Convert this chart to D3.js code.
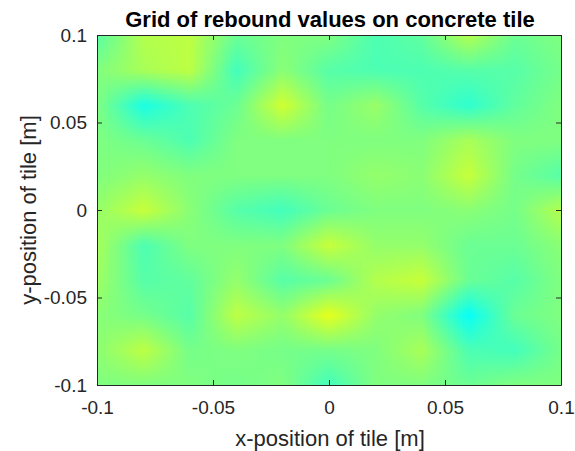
<!DOCTYPE html>
<html>
<head>
<meta charset="utf-8">
<script src="https://cdn.jsdelivr.net/npm/d3@7"></script>
<style>
  html, body { margin: 0; padding: 0; background: #ffffff; }
  svg { display: block; }
</style>
</head>
<body>
<svg id="chart" width="575" height="451"></svg>
<script>
// ---- data (rebound values on an 11 x 11 grid, rows from y = 0.1 down to y = -0.1) ----
const xPositions = [-0.1, -0.08, -0.06, -0.04, -0.02, 0, 0.02, 0.04, 0.06, 0.08, 0.1];
const yPositions = [0.1, 0.08, 0.06, 0.04, 0.02, 0, -0.02, -0.04, -0.06, -0.08, -0.1];

const reboundY_p010 = [38.4, 42.0, 42.4, 39.2, 40.0, 40.0, 38.0, 38.8, 42.0, 39.2, 40.0];
const reboundY_p008 = [40.0, 41.6, 42.4, 37.6, 40.4, 38.4, 38.0, 38.0, 38.4, 38.4, 39.6];
const reboundY_p006 = [40.0, 36.0, 38.0, 39.2, 43.2, 39.6, 41.0, 38.4, 36.8, 38.8, 40.0];
const reboundY_p004 = [40.0, 39.2, 38.0, 40.0, 40.0, 40.0, 40.0, 40.0, 41.6, 40.0, 40.0];
const reboundY_p002 = [40.0, 40.8, 40.0, 40.0, 40.0, 40.0, 40.8, 40.4, 42.8, 39.6, 38.4];
const reboundY_0000 = [40.8, 42.8, 40.4, 38.4, 37.6, 39.2, 40.0, 40.0, 40.4, 39.6, 42.0];
const reboundY_m002 = [41.6, 38.0, 40.0, 40.0, 40.0, 42.8, 40.8, 40.8, 39.2, 39.2, 40.4];
const reboundY_m004 = [41.2, 38.4, 38.8, 40.8, 38.4, 39.2, 42.0, 42.8, 39.2, 38.4, 40.0];
const reboundY_m006 = [40.4, 39.6, 38.4, 42.4, 40.8, 44.0, 40.8, 40.0, 35.2, 39.2, 40.0];
const reboundY_m008 = [40.4, 42.4, 39.6, 40.0, 39.6, 39.6, 40.0, 41.6, 38.0, 37.6, 39.6];
const reboundY_m010 = [40.0, 40.0, 40.0, 39.6, 40.0, 37.6, 40.0, 40.0, 39.2, 40.0, 40.0];

const reboundRows = [reboundY_p010, reboundY_p008, reboundY_p006, reboundY_p004, reboundY_p002,
                     reboundY_0000, reboundY_m002, reboundY_m004, reboundY_m006, reboundY_m008, reboundY_m010];

const colorLimits = [20, 60];
const xTickValues = [-0.1, -0.05, 0, 0.05, 0.1];
const yTickValues = [-0.1, -0.05, 0, 0.05, 0.1];
const xTickLabels = ["-0.1", "-0.05", "0", "0.05", "0.1"];
const yTickLabels = ["-0.1", "-0.05", "0", "0.05", "0.1"];

const titleText = "Grid of rebound values on concrete tile";
const xLabelText = "x-position of tile [m]";
const yLabelText = "y-position of tile [m]";

// ---- layout ----
const plotLeft = 97, plotRight = 561, plotTop = 35, plotBottom = 385;
const axisColor = "#262626";
const fontFamily = "'Liberation Sans', Arial, Helvetica, sans-serif";

const svg = d3.select("#chart");

const x = d3.scaleLinear().domain([-0.1, 0.1]).range([plotLeft, plotRight]);
const y = d3.scaleLinear().domain([-0.1, 0.1]).range([plotBottom, plotTop]);

// jet colormap over the colour limits
const [cLo, cHi] = colorLimits;
const span = cHi - cLo;
const jet = d3.scaleLinear()
  .domain([cLo, cLo + 0.125 * span, cLo + 0.375 * span, cLo + 0.625 * span, cLo + 0.875 * span, cHi])
  .range(["#000080", "#0000ff", "#00ffff", "#ffff00", "#ff0000", "#800000"])
  .interpolate(d3.interpolateRgb)
  .clamp(true);

// grid index scales (data -> fractional grid index)
const xIndex = d3.scaleLinear().domain(d3.extent(xPositions)).range([0, xPositions.length - 1]);
const yIndex = d3.scaleLinear().domain([yPositions[0], yPositions[yPositions.length - 1]]).range([0, yPositions.length - 1]);

function valueAt(xv, yv) {
  const fi = xIndex(xv), fj = yIndex(yv);
  const i0 = Math.max(0, Math.min(xPositions.length - 2, Math.floor(fi)));
  const j0 = Math.max(0, Math.min(yPositions.length - 2, Math.floor(fj)));
  const tx = fi - i0, ty = fj - j0;
  const a = reboundRows[j0][i0], b = reboundRows[j0][i0 + 1];
  const c = reboundRows[j0 + 1][i0], d = reboundRows[j0 + 1][i0 + 1];
  return (a * (1 - tx) + b * tx) * (1 - ty) + (c * (1 - tx) + d * tx) * ty;
}

// ---- interpolated surface (shading interp) ----
const sub = 14;
const samples = [];
for (let j = 0; j < yPositions.length - 1; j++) {
  for (let i = 0; i < xPositions.length - 1; i++) {
    const xa = xPositions[i], xb = xPositions[i + 1];
    const ya = yPositions[j], yb = yPositions[j + 1];
    for (let sj = 0; sj < sub; sj++) {
      for (let si = 0; si < sub; si++) {
        const x0 = xa + (xb - xa) * si / sub, x1 = xa + (xb - xa) * (si + 1) / sub;
        const y0 = ya + (yb - ya) * sj / sub, y1 = ya + (yb - ya) * (sj + 1) / sub;
        samples.push({ x0, x1, y0, y1, v: valueAt((x0 + x1) / 2, (y0 + y1) / 2) });
      }
    }
  }
}

svg.append("g")
  .attr("class", "surface")
  .selectAll("rect")
  .data(samples)
  .join("rect")
  .attr("x", d => x(d.x0))
  .attr("y", d => y(d.y0))
  .attr("width", d => x(d.x1) - x(d.x0) + 0.6)
  .attr("height", d => y(d.y1) - y(d.y0) + 0.6)
  .attr("fill", d => jet(d.v))
  .attr("shape-rendering", "crispEdges");

// cover any overlap past the right/bottom edge
svg.append("rect").attr("x", plotRight + 0.5).attr("y", plotTop).attr("width", 6).attr("height", plotBottom - plotTop + 6).attr("fill", "#fff");
svg.append("rect").attr("x", plotLeft).attr("y", plotBottom + 0.5).attr("width", plotRight - plotLeft + 6).attr("height", 6).attr("fill", "#fff");

// ---- axes ----
const tickLen = 5;
function styleAxis(g) {
  g.selectAll("path.domain").attr("stroke", axisColor).attr("stroke-width", 1);
  g.selectAll(".tick line").attr("stroke", axisColor).attr("stroke-width", 1);
  g.selectAll(".tick text").attr("fill", axisColor).attr("font-size", 19).attr("font-family", fontFamily);
}

const xAxisBottom = d3.axisBottom(x).tickValues(xTickValues)
  .tickFormat((d, i) => xTickLabels[i]).tickSizeInner(-tickLen).tickSizeOuter(0).tickPadding(15);
const gxb = svg.append("g").attr("transform", `translate(0,${plotBottom})`).call(xAxisBottom).call(styleAxis);
gxb.selectAll(".tick text").attr("dy", null).attr("y", 29);

const xAxisTop = d3.axisTop(x).tickValues(xTickValues).tickFormat(() => "")
  .tickSizeInner(-tickLen).tickSizeOuter(0);
svg.append("g").attr("transform", `translate(0,${plotTop})`).call(xAxisTop).call(styleAxis);

const yAxisLeft = d3.axisLeft(y).tickValues(yTickValues)
  .tickFormat((d, i) => yTickLabels[i]).tickSizeInner(-tickLen).tickSizeOuter(0).tickPadding(10);
svg.append("g").attr("transform", `translate(${plotLeft},0)`).call(yAxisLeft).call(styleAxis);

const yAxisRight = d3.axisRight(y).tickValues(yTickValues).tickFormat(() => "")
  .tickSizeInner(-tickLen).tickSizeOuter(0);
svg.append("g").attr("transform", `translate(${plotRight},0)`).call(yAxisRight).call(styleAxis);

// ---- title and labels ----
svg.append("text")
  .attr("x", (plotLeft + plotRight) / 2 + 1).attr("y", 27)
  .attr("text-anchor", "middle")
  .attr("font-family", fontFamily).attr("font-weight", "bold").attr("font-size", 22)
  .attr("fill", "#000")
  .text(titleText);

svg.append("text")
  .attr("x", (plotLeft + plotRight) / 2 + 1).attr("y", 446)
  .attr("text-anchor", "middle")
  .attr("font-family", fontFamily).attr("font-size", 22)
  .attr("fill", axisColor)
  .text(xLabelText);

svg.append("text")
  .attr("transform", `translate(36,${(plotTop + plotBottom) / 2}) rotate(-90)`)
  .attr("text-anchor", "middle")
  .attr("font-family", fontFamily).attr("font-size", 22)
  .attr("fill", axisColor)
  .text(yLabelText);
</script>
</body>
</html>
